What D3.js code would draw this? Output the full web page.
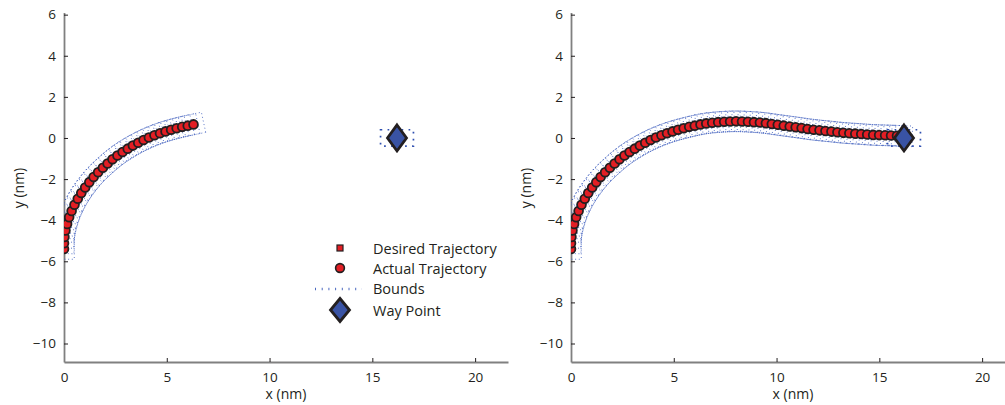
<!DOCTYPE html>
<html>
<head>
<meta charset="utf-8">
<script src="https://cdn.jsdelivr.net/npm/d3@7"></script>
<style>
  body { margin: 0; background: #fff; }
  svg text { font-family: "Open Sans", "Noto Sans", sans-serif; fill: #231f20; }
</style>
</head>
<body>
<div id="chart"></div>
<script>
// trajectory (nm) - first part, shared by both panels
var armX = [0.00, 0.00, 0.02, 0.07, 0.15, 0.25, 0.37, 0.51, 0.67, 0.84, 1.03, 1.23, 1.44, 1.66, 1.89, 2.12,
            2.36, 2.60, 2.85, 3.10, 3.35, 3.61, 3.87, 4.13, 4.40, 4.67, 4.94, 5.21, 5.48, 5.75, 6.02, 6.30];
var armY = [-5.40, -5.12, -4.82, -4.50, -4.18, -3.86, -3.55, -3.25, -2.96, -2.68, -2.41, -2.15, -1.90, -1.67, -1.45, -1.24,
            -1.04, -0.85, -0.68, -0.52, -0.37, -0.23, -0.10, 0.02, 0.13, 0.23, 0.32, 0.40, 0.47, 0.54, 0.60, 0.66];
// rest of the trajectory, right panel only
var tailX = [6.58, 6.87, 7.16, 7.45, 7.74, 8.03, 8.32, 8.61, 8.90, 9.19, 9.48, 9.77, 10.06, 10.35, 10.64, 10.93, 11.22,
             11.51, 11.80, 12.09, 12.38, 12.67, 12.96, 13.25, 13.54, 13.83, 14.12, 14.41, 14.70, 14.99, 15.28, 15.57, 15.86, 16.10];
var tailY = [0.71, 0.74, 0.77, 0.79, 0.80, 0.81, 0.80, 0.79, 0.77, 0.75, 0.72, 0.68, 0.64, 0.60, 0.56, 0.52, 0.48,
             0.44, 0.40, 0.37, 0.34, 0.31, 0.28, 0.25, 0.23, 0.21, 0.19, 0.17, 0.15, 0.14, 0.13, 0.12, 0.11, 0.10];
var wayPoint = [16.2, 0];
var boundAlong = 0.5, boundCross = 0.5;   // bound box half sizes around each point
var wpBoundX = 0.8, wpBoundY = 0.4;       // bound box round the way point
var xTicks = [0, 5, 10, 15, 20];
var yTicks = [-10, -8, -6, -4, -2, 0, 2, 4, 6];
var legendLabels = ["Desired Trajectory", "Actual Trajectory", "Bounds", "Way Point"];

var W = 1005, H = 405;
var red = "#e31e24", edge = "#231f20", blue = "#3953a4", boundBlue = "#4463c0", axisGrey = "#808080";

var svg = d3.select("#chart").append("svg")
    .attr("width", W).attr("height", H)
    .style("display", "block");

function zip(xs, ys) {
    return xs.map(function (x, i) { return [x, ys[i]]; });
}

var panels = [
    { left: 64, pts: zip(armX, armY) },
    { left: 571, pts: zip(armX.concat(tailX), armY.concat(tailY)) }
];

panels.forEach(function (p, pi) {
    var x = d3.scaleLinear().domain([0, 21.6]).range([p.left, p.left + 444]);
    var y = d3.scaleLinear().domain([-10.9, 6.1]).range([362, 12.6]);

    var clipId = "clip" + pi;
    svg.append("clipPath").attr("id", clipId)
        .append("rect")
        .attr("x", x(0)).attr("y", y(6.1))
        .attr("width", x(21.6) - x(0)).attr("height", y(-10.9) - y(6.1));

    var g = svg.append("g");

    // axes, matlab style: ticks inside, no box
    g.append("g")
        .attr("transform", "translate(0," + y(-10.9) + ")")
        .call(d3.axisBottom(x).tickValues(xTicks).tickSizeInner(-4).tickSizeOuter(0).tickPadding(10))
        .call(styleAxis);
    g.append("g")
        .attr("transform", "translate(" + x(0) + ",0)")
        .call(d3.axisLeft(y).tickValues(yTicks).tickSizeInner(-4).tickSizeOuter(0).tickPadding(8))
        .call(styleAxis);

    g.append("text")
        .attr("x", x(10.8)).attr("y", 393)
        .attr("text-anchor", "middle").attr("dominant-baseline", "central")
        .style("font-size", "14px")
        .text("x (nm)");
    g.append("text")
        .attr("transform", "translate(" + (p.left - 46) + "," + 188 + ") rotate(-90)")
        .attr("text-anchor", "middle").attr("dominant-baseline", "central")
        .style("font-size", "14px")
        .text("y (nm)");

    var plot = g.append("g").attr("clip-path", "url(#" + clipId + ")");

    // bounds: dotted box round every point, turned with the heading
    var pts = p.pts;
    var k = x(1) - x(0);
    var boxes = pts.map(function (d, i) {
        var a = pts[Math.max(i - 1, 0)], b = pts[Math.min(i + 1, pts.length - 1)];
        var dx = x(b[0]) - x(a[0]), dy = y(b[1]) - y(a[1]);
        var len = Math.sqrt(dx * dx + dy * dy) || 1;
        var ux = dx / len, uy = dy / len, nx = -uy, ny = ux;
        var cx = x(d[0]), cy = y(d[1]);
        var al = boundAlong * k, cr = boundCross * k;
        return [[cx + ux * al + nx * cr, cy + uy * al + ny * cr],
                [cx + ux * al - nx * cr, cy + uy * al - ny * cr],
                [cx - ux * al - nx * cr, cy - uy * al - ny * cr],
                [cx - ux * al + nx * cr, cy - uy * al + ny * cr]];
    });
    plot.selectAll(".bound").data(boxes).enter().append("path")
        .attr("class", "bound")
        .attr("d", function (c) { return d3.line()(c) + "Z"; })
        .attr("fill", "none")
        .attr("stroke", boundBlue)
        .attr("stroke-width", 1)
        .attr("stroke-opacity", 0.85)
        .attr("stroke-dasharray", "1,2.7");

    plot.append("rect")
        .attr("x", x(wayPoint[0] - wpBoundX)).attr("y", y(wayPoint[1] + wpBoundY))
        .attr("width", x(wayPoint[0] + wpBoundX) - x(wayPoint[0] - wpBoundX))
        .attr("height", y(wayPoint[1] - wpBoundY) - y(wayPoint[1] + wpBoundY))
        .attr("fill", "none")
        .attr("stroke", "#2f4fb0")
        .attr("stroke-width", 1.7)
        .attr("stroke-dasharray", "1.7,5.3");

    // desired trajectory squares under the actual circles
    plot.selectAll(".desired").data(pts).enter().append("rect")
        .attr("class", "desired")
        .attr("x", function (d) { return x(d[0]) - 3; })
        .attr("y", function (d) { return y(d[1]) - 3; })
        .attr("width", 6).attr("height", 6)
        .attr("fill", red).attr("stroke", edge).attr("stroke-width", 1);

    plot.selectAll(".actual").data(pts).enter().append("circle")
        .attr("class", "actual")
        .attr("cx", function (d) { return x(d[0]); })
        .attr("cy", function (d) { return y(d[1]); })
        .attr("r", 4.4)
        .attr("fill", red).attr("stroke", edge).attr("stroke-width", 1.8);

    plot.append("path")
        .attr("d", diamond(x(wayPoint[0]), y(wayPoint[1]), 9.5, 13))
        .attr("fill", blue).attr("stroke", edge).attr("stroke-width", 2.8)
        .attr("stroke-linejoin", "miter");
});

function styleAxis(sel) {
    sel.select(".domain").attr("stroke", axisGrey).attr("stroke-width", 1.8);
    sel.selectAll(".tick line").attr("stroke", edge).attr("stroke-width", 1);
    sel.selectAll(".tick text")
        .style("font-size", "13.5px")
        .style("font-family", "'Open Sans', 'Noto Sans', sans-serif")
        .attr("fill", "#231f20");
}

function diamond(cx, cy, hw, hh) {
    return "M" + cx + "," + (cy - hh) + "L" + (cx + hw) + "," + cy +
           "L" + cx + "," + (cy + hh) + "L" + (cx - hw) + "," + cy + "Z";
}

// legend, left panel
var legend = svg.append("g");
var rowY = [248, 268, 288, 310];
legend.append("rect")
    .attr("x", 337).attr("y", rowY[0] - 3).attr("width", 6).attr("height", 6)
    .attr("fill", red).attr("stroke", edge).attr("stroke-width", 1.2);
legend.append("circle")
    .attr("cx", 340).attr("cy", rowY[1]).attr("r", 4.4)
    .attr("fill", red).attr("stroke", edge).attr("stroke-width", 1.6);
legend.append("line")
    .attr("x1", 315).attr("x2", 362).attr("y1", rowY[2] + 1).attr("y2", rowY[2] + 1)
    .attr("stroke", "#4a68c0").attr("stroke-width", 2.4)
    .attr("stroke-dasharray", "1,5.7");
legend.append("path")
    .attr("d", diamond(340, rowY[3], 9.5, 11.5))
    .attr("fill", blue).attr("stroke", edge).attr("stroke-width", 2.8);
legend.selectAll(".lab").data(legendLabels).enter().append("text")
    .attr("class", "lab")
    .attr("x", 373)
    .attr("y", function (d, i) { return rowY[i]; })
    .attr("dominant-baseline", "central")
    .style("font-size", "14.5px")
    .text(function (d) { return d; });
</script>
</body>
</html>
